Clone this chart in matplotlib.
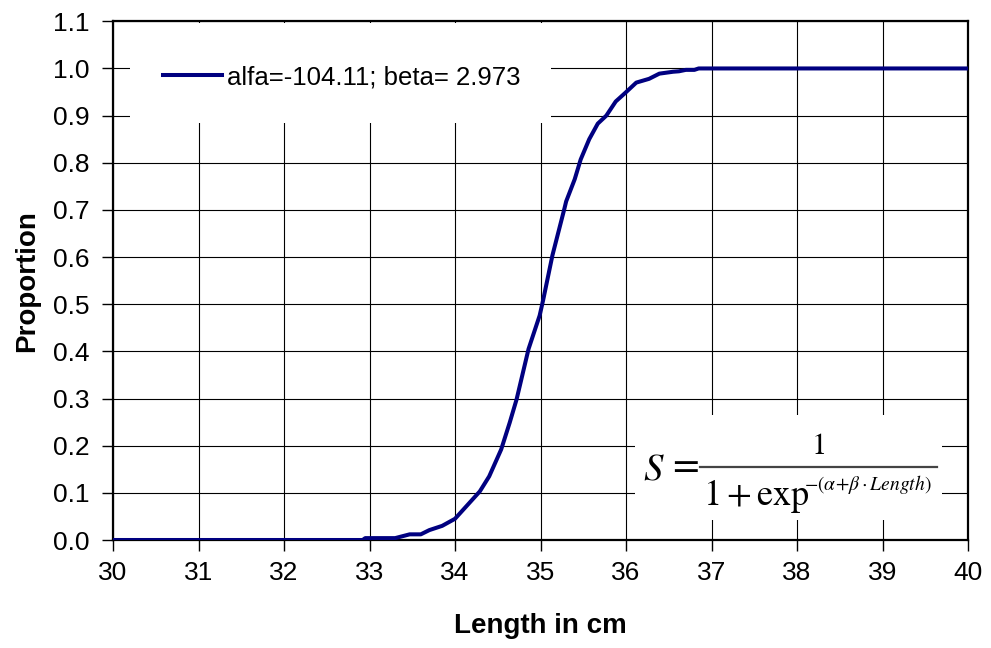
import matplotlib
matplotlib.use("Agg")
import matplotlib.pyplot as plt
from matplotlib.patches import Rectangle
from matplotlib.lines import Line2D

# Data
length_cm = [30.0, 32.92, 32.95, 33.30, 33.47, 33.60, 33.70, 33.85, 34.00, 34.11,
             34.29, 34.40, 34.54, 34.64, 34.72, 34.86, 34.99, 35.03, 35.14, 35.28,
             35.30, 35.40, 35.47, 35.57, 35.67, 35.77, 35.88, 35.99, 36.12, 36.27,
             36.39, 36.55, 36.62, 36.70, 36.80, 36.85, 40.0]
proportion = [0.0, 0.0, 0.004, 0.004, 0.012, 0.012, 0.021, 0.030, 0.045, 0.067,
              0.103, 0.135, 0.192, 0.249, 0.298, 0.405, 0.476, 0.508, 0.604, 0.703,
              0.718, 0.765, 0.807, 0.850, 0.883, 0.900, 0.930, 0.948, 0.970, 0.978,
              0.989, 0.993, 0.994, 0.997, 0.997, 1.0, 1.0]
series_label = "alfa=-104.11; beta= 2.973"
x_ticks = list(range(30, 41))
y_ticks = [i / 10 for i in range(0, 12)]
y_tick_labels = ["%.1f" % v for v in y_ticks]

plt.rcParams['font.family'] = ['Liberation Sans', 'DejaVu Sans']
plt.rcParams['mathtext.fontset'] = 'stix'

fig = plt.figure(figsize=(9.91, 6.48), dpi=100)
W, H = 991, 648
left, right, top, bottom = 113, 968, 21.3, 540
ax = fig.add_axes([left / W, (H - bottom) / H, (right - left) / W, (bottom - top) / H])

line_color = '#000080'
ax.plot(length_cm, proportion, color=line_color, lw=2.9, label=series_label,
        zorder=5, solid_joinstyle='round')

ax.set_xlim(30, 40)
ax.set_ylim(0, 1.1)
ax.set_xticks(x_ticks)
ax.set_yticks(y_ticks)
ax.set_yticklabels(y_tick_labels)
ax.grid(True, color='black', lw=0.8, zorder=1)
ax.set_axisbelow(True)
for s in ax.spines.values():
    s.set_linewidth(1.6)
    s.set_color('black')
ax.tick_params(axis='both', direction='out', length=8, width=1.0, labelsize=19,
               colors='black')
ax.tick_params(axis='x', pad=7)
ax.tick_params(axis='y', pad=9)

def ax_x(px):
    return (px - left) / (right - left)

def ax_y(py):
    return (bottom - py) / (bottom - top)

ax.set_xlabel("Length in cm", fontsize=20, fontweight='bold')
ax.set_ylabel("Proportion", fontsize=20, fontweight='bold')
ax.xaxis.set_label_coords(0.5, ax_y(613))
ax.yaxis.set_label_coords(ax_x(40), 0.5)

# White box behind legend
ax.add_patch(Rectangle((ax_x(130), ax_y(123)), ax_x(551) - ax_x(130), ax_y(23) - ax_y(123),
                       transform=ax.transAxes, facecolor='white', edgecolor='none', zorder=2))
# White box behind formula
ax.add_patch(Rectangle((ax_x(635), ax_y(520)), ax_x(942) - ax_x(635), ax_y(415) - ax_y(520),
                       transform=ax.transAxes, facecolor='white', edgecolor='none', zorder=2))

leg = ax.legend(loc='center left', bbox_to_anchor=(ax_x(163), ax_y(77)), frameon=False,
                fontsize=18.5, handlelength=2.3, handletextpad=0.2, borderpad=0,
                borderaxespad=0)
leg.set_zorder(6)

# Formula, composed of pieces (pixel positions converted to figure fractions)
def fx(px):
    return px / W

def fy(py):
    return 1 - py / H

fig.text(fx(643), fy(480), r'$S$', fontsize=28, ha='left', va='baseline', zorder=10)
fig.text(fx(683), fy(465), r'$=$', fontsize=28, ha='center', va='center', zorder=10)
fig.add_artist(Line2D([fx(700), fx(937)], [fy(467.3), fy(467.3)],
                      transform=fig.transFigure, color='#444444', lw=1.6, zorder=10))
fig.text(fx(818), fy(454), r'$1$', fontsize=22, ha='center', va='baseline', zorder=10)
fig.text(fx(703), fy(505), r'$1+\mathrm{exp}$', fontsize=26, ha='left', va='baseline', zorder=10)
fig.text(fx(804), fy(490), r'$-(\alpha\!+\!\beta\cdot Length)$', fontsize=14,
         ha='left', va='baseline', zorder=10)

fig.savefig("out.png", dpi=100, facecolor='white')
